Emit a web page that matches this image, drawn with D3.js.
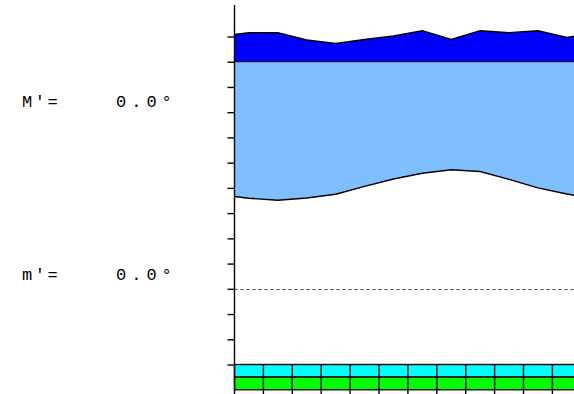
<!DOCTYPE html>
<html><head><meta charset="utf-8">
<script src="https://cdn.jsdelivr.net/npm/d3@7"></script>
<style>body{margin:0;background:#fff}svg{display:block}</style>
</head><body>
<svg id="c" width="574" height="394"></svg>
<script>
// x positions in hour-column units (0..12), values in degrees
const upperX   = [0, 0.5, 1.5, 2.5, 3.5, 4.5, 5.5, 6.5, 7.5, 8.5, 9.5, 10.5, 11.5, 12];
const upperTop = [100.8, 101.5, 101.5, 98.6, 97.2, 98.8, 100.2, 102.3, 98.8, 102.3, 101.5, 102.3, 99.6, 100.6];
const lowerX   = [0, 0.5, 1.5, 2.5, 3.5, 4.5, 5.5, 6.5, 7.5, 8.5, 9.5, 10.5, 11.5, 12];
const lowerBot = [36.6, 35.9, 35.1, 36.0, 37.5, 40.6, 43.5, 45.8, 47.2, 46.5, 43.4, 40.0, 37.6, 36.6];
const bandLevel = 90;
const refLevel = 0;
const yTicks = [-30,-20,-10,0,10,20,30,40,50,60,70,80,90,100];
const hours = [0,1,2,3,4,5,6,7,8,9,10,11,12];
const labels = [{t:"M′=", v:"0.0°", y:107}, {t:"m′=", v:"0.0°", y:280}];

const svg = d3.select("#c");
const x = d3.scaleLinear().domain([0,12]).range([234.5, 581.3]);
const y = d3.scaleLinear().domain([-30,100]).range([364.5, 36.5]);

// dark blue area
const upData = upperX.map((d,i)=>({x:d, v:upperTop[i]}));
svg.append("path").datum(upData)
  .attr("d", d3.area().x(d=>x(d.x)).y0(y(bandLevel)).y1(d=>y(d.v)))
  .attr("fill","#0000ff");
svg.append("path").datum(upData)
  .attr("d", d3.line().x(d=>x(d.x)).y(d=>y(d.v)))
  .attr("fill","none").attr("stroke","#000").attr("stroke-width",1.4);

// light blue area
const loData = lowerX.map((d,i)=>({x:d, v:lowerBot[i]}));
svg.append("path").datum(loData)
  .attr("d", d3.area().x(d=>x(d.x)).y0(y(bandLevel)).y1(d=>y(d.v)))
  .attr("fill","#80bfff");
svg.append("path").datum(loData)
  .attr("d", d3.line().x(d=>x(d.x)).y(d=>y(d.v)))
  .attr("fill","none").attr("stroke","#000").attr("stroke-width",1.4);

svg.append("line").attr("x1",x(0)).attr("x2",x(12)).attr("y1",y(bandLevel)).attr("y2",y(bandLevel))
  .attr("stroke","#000").attr("stroke-width",1);

// dashed reference line
svg.append("line").attr("x1",x(0)).attr("x2",x(12)).attr("y1",Math.round(y(refLevel))+0.5).attr("y2",Math.round(y(refLevel))+0.5)
  .attr("stroke","#444").attr("stroke-width",1).attr("stroke-dasharray","3,3");

// bottom bands
svg.append("rect").attr("x",x(0)).attr("y",y(-30)).attr("width",x(12)-x(0)).attr("height",y(-35)-y(-30))
  .attr("fill","#00ffff").attr("stroke","#000").attr("stroke-width",1.4);
svg.append("rect").attr("x",x(0)).attr("y",y(-35)).attr("width",x(12)-x(0)).attr("height",y(-40)-y(-35))
  .attr("fill","#00ff00").attr("stroke","#000").attr("stroke-width",1.4);
svg.selectAll(".hl").data(hours).join("line")
  .attr("x1",d=>x(d)).attr("x2",d=>x(d)).attr("y1",y(-30)).attr("y2",394)
  .attr("stroke","#000").attr("stroke-width",1.4);

// y axis
const ax = svg.append("g").attr("transform",`translate(${x(0)},0)`)
  .call(d3.axisLeft(y).tickValues(yTicks).tickSize(7).tickFormat(""));
ax.select(".domain").remove();
ax.selectAll("line").attr("stroke","#000").attr("stroke-width",1.4);
svg.append("line").attr("x1",x(0)).attr("x2",x(0)).attr("y1",5).attr("y2",y(-30))
  .attr("stroke","#000").attr("stroke-width",1.4);

// labels
labels.forEach(l=>{
  svg.append("text").attr("x",22).attr("y",l.y).text(l.t)
    .attr("font-family","Liberation Mono, monospace").attr("font-size",17).attr("letter-spacing",2.5);
  svg.append("text").attr("x",116).attr("y",l.y).text(l.v)
    .attr("font-family","Liberation Mono, monospace").attr("font-size",17).attr("letter-spacing",5);
});
</script>
</body></html>
